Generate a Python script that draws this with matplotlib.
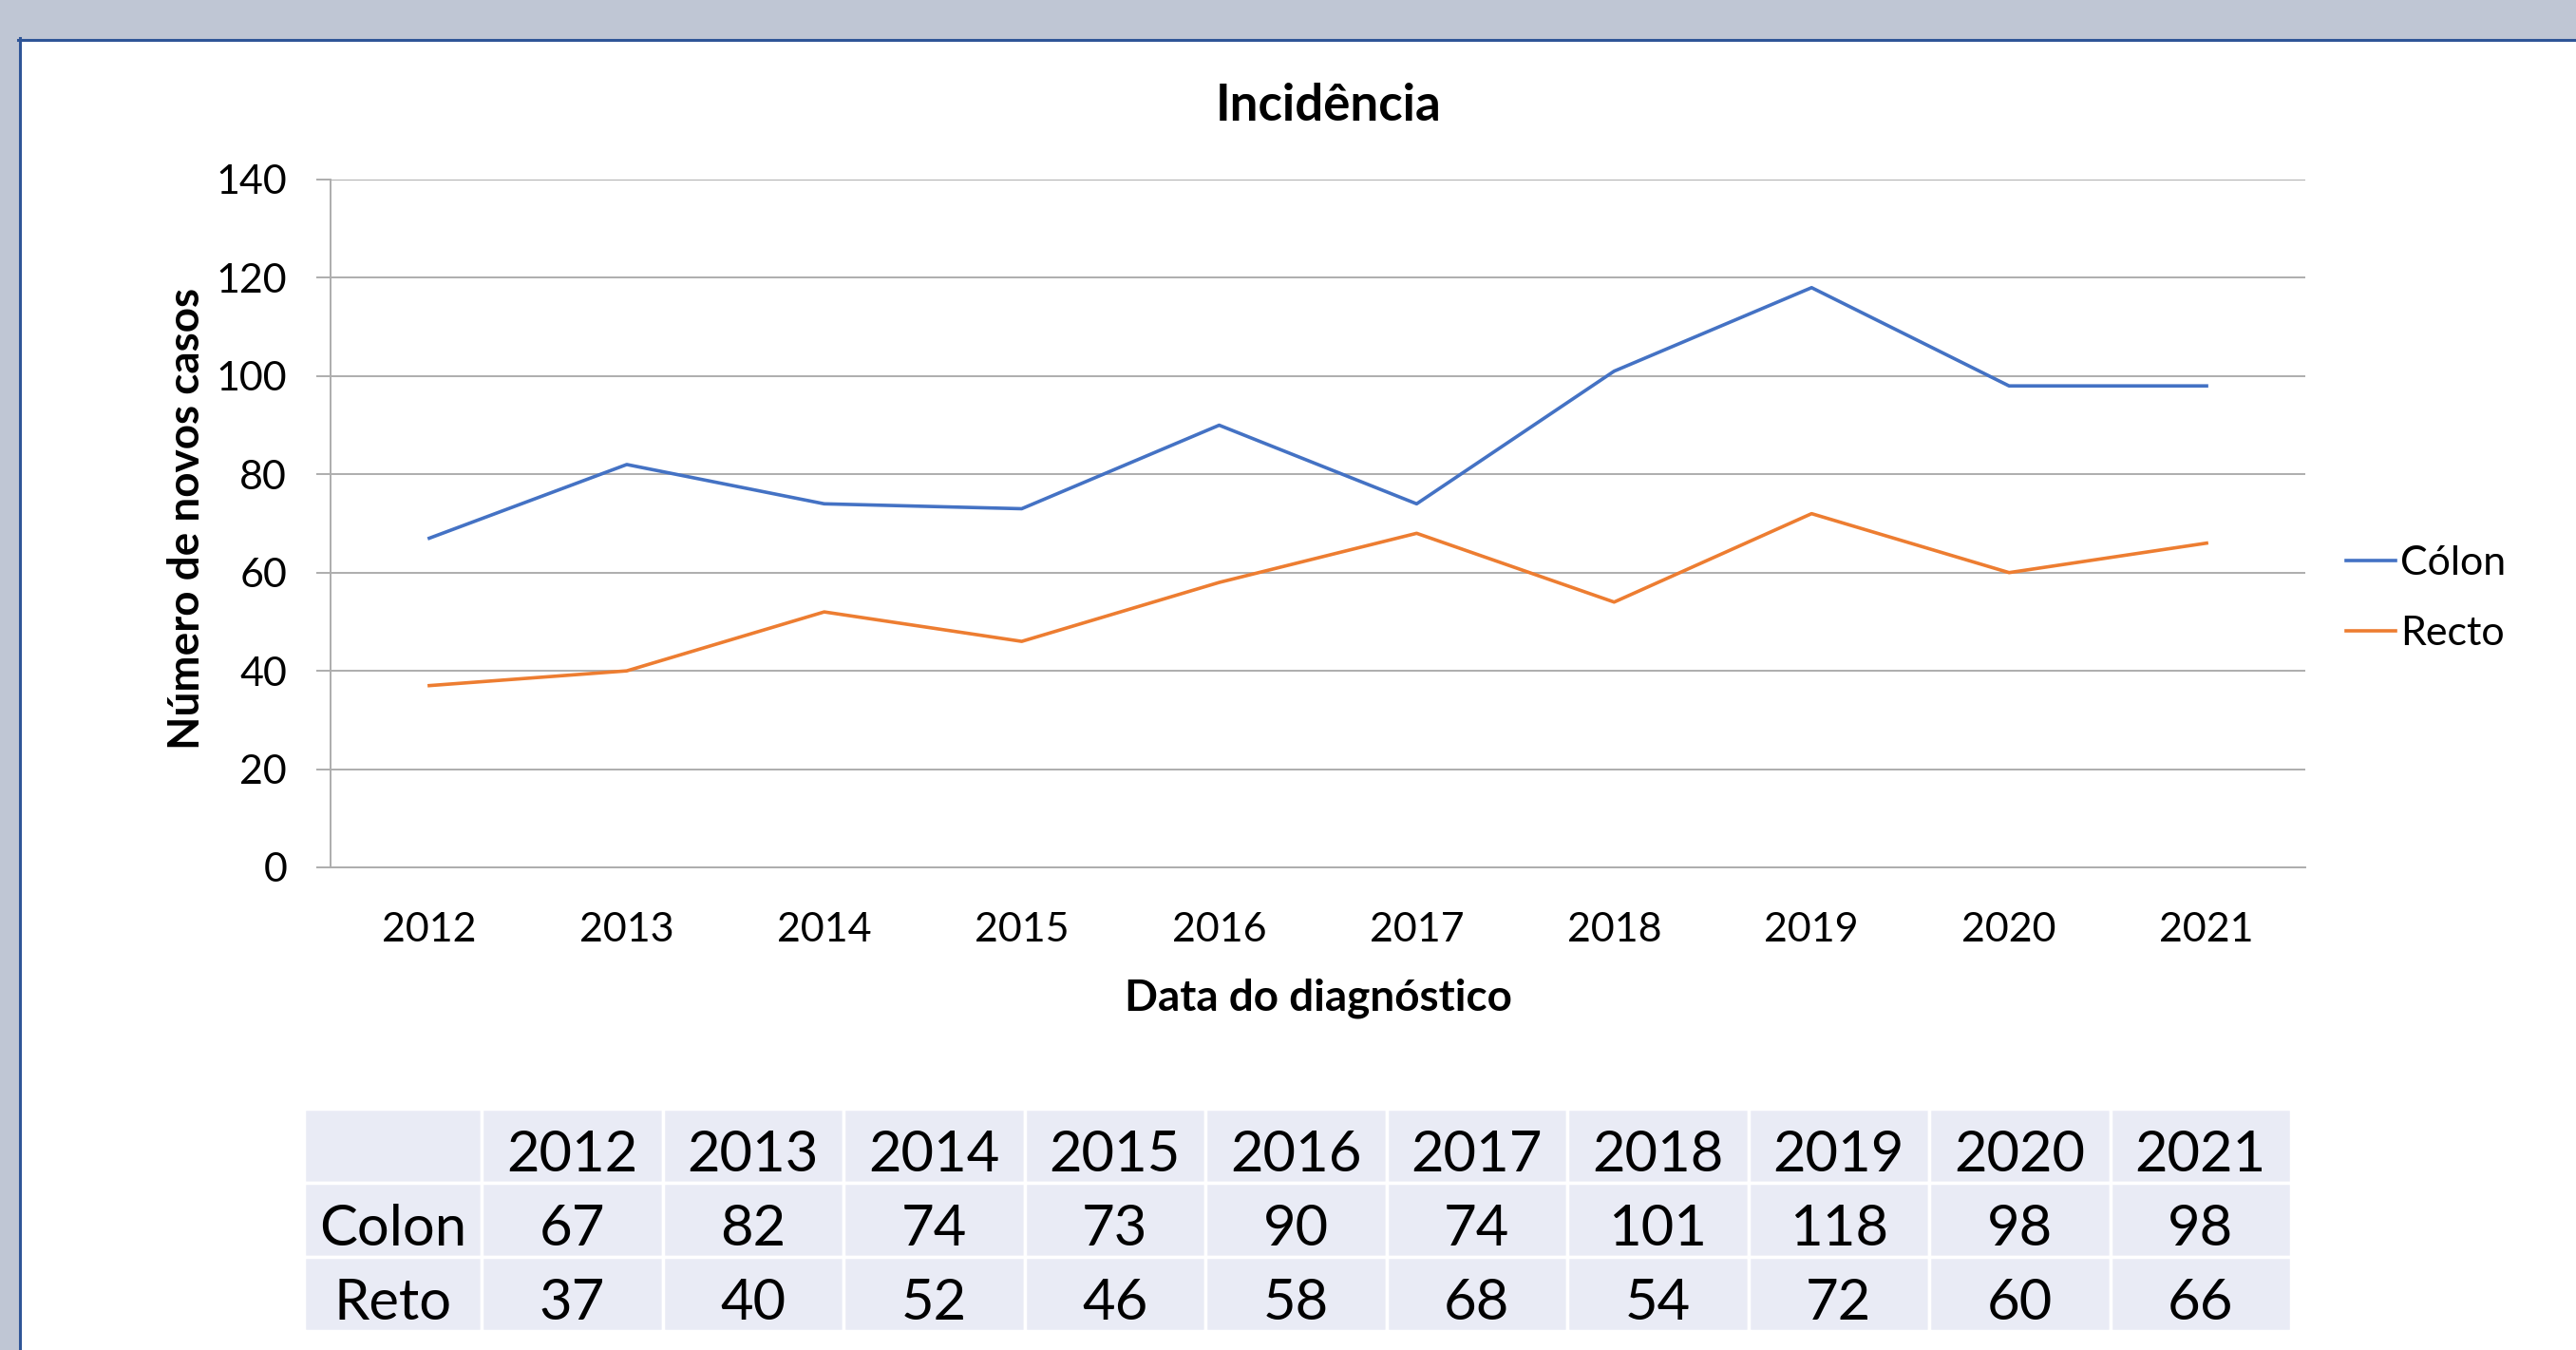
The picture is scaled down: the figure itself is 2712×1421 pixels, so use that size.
import numpy as np
import matplotlib.pyplot as plt
from matplotlib.patches import Rectangle
from matplotlib.lines import Line2D
from matplotlib.transforms import ScaledTranslation

plt.rcParams['font.family'] = ['Lato', 'DejaVu Sans']

# Dados
anos = ['2012', '2013', '2014', '2015', '2016', '2017', '2018', '2019', '2020', '2021']
colon = [67, 82, 74, 73, 90, 74, 101, 118, 98, 98]
recto = [37, 40, 52, 46, 58, 68, 54, 72, 60, 66]
series_legenda = ['Cólon', 'Recto']
linhas_tabela = ['Colon', 'Reto']
y_ticks = [0, 20, 40, 60, 80, 100, 120, 140]

W, H = 2712, 1421
fig = plt.figure(figsize=(W / 100, H / 100), dpi=100)
fig.patch.set_facecolor('white')

# Moldura (faixa cinzenta + linha azul)
fig.patches.append(Rectangle((0, 1 - 40 / H), 1, 40 / H, transform=fig.transFigure,
                             color='#BFC6D4', zorder=0))
fig.patches.append(Rectangle((0, 0), 19 / W, 1, transform=fig.transFigure,
                             color='#BFC6D4', zorder=0))
fig.lines.append(Line2D([19 / W, 1], [1 - 41.5 / H, 1 - 41.5 / H], transform=fig.transFigure,
                        color='#2F5597', lw=2.2))
fig.lines.append(Line2D([20.5 / W, 20.5 / W], [0, 1 - 40 / H], transform=fig.transFigure,
                        color='#2F5597', lw=2.2))

# Gráfico
ax = fig.add_axes([348 / W, 1 - 913 / H, (2427 - 348) / W, (913 - 189) / H])
x = np.arange(len(anos))
ax.plot(x, colon, color='#4472C4', lw=2.6, label=series_legenda[0])
ax.plot(x, recto, color='#ED7D31', lw=2.6, label=series_legenda[1])

ax.set_xlim(-0.5, len(anos) - 0.5)
ax.set_ylim(0, 140)
ax.set_xticks(x)
ax.set_xticklabels(anos)
ax.set_yticks(y_ticks)
ax.grid(axis='y', color='#ADADAD', lw=1.4)
ax.set_axisbelow(True)
for s in ['top', 'right']:
    ax.spines[s].set_visible(False)
for s in ['left', 'bottom']:
    ax.spines[s].set_color('#ADADAD')
    ax.spines[s].set_linewidth(1.4)
ax.tick_params(axis='x', length=0, pad=34, labelsize=31)
ax.tick_params(axis='y', length=11, width=1.4, color='#ADADAD', pad=22, labelsize=31)

fig.text(1399 / W, 1 - 127 / H, 'Incidência', ha='center', va='baseline',
         fontsize=38, fontweight='bold')
fig.text(1388 / W, 1 - 1063 / H, 'Data do diagnóstico', ha='center', va='baseline',
         fontsize=33, fontweight='bold')
fig.text(210 / W, 1 - 546 / H, 'Número de novos casos', ha='center', va='baseline',
         rotation=90, rotation_mode='anchor', fontsize=33, fontweight='bold')

ax.legend(loc='center left', bbox_to_anchor=(2470 / W, 1 - 630 / H),
          bbox_transform=fig.transFigure, frameon=False, fontsize=31,
          handlelength=1.2, handletextpad=0.12, labelspacing=0.85,
          borderpad=0, borderaxespad=0)

# Tabela
axt = fig.add_axes([320 / W, 1 - 1401 / H, (2412 - 320) / W, (1401 - 1167) / H])
axt.axis('off')
celulas = [[''] + anos,
           [linhas_tabela[0]] + [str(v) for v in colon],
           [linhas_tabela[1]] + [str(v) for v in recto]]
larguras = [108] + [110] * len(anos)
tab = axt.table(cellText=celulas, cellLoc='center', bbox=[0, 0, 1, 1],
                colWidths=[w / sum(larguras) for w in larguras])
tab.auto_set_font_size(False)
tab.set_fontsize(43)
desce = ScaledTranslation(0, -5 / 100, fig.dpi_scale_trans)
for cel in tab.get_celld().values():
    cel.set_facecolor('#E9EBF5')
    cel.set_edgecolor('white')
    cel.set_linewidth(2.5)
    txt = cel.get_text()
    txt.set_va('center_baseline')
    txt.set_transform(txt.get_transform() + desce)

fig.savefig('out.png', dpi=100)
